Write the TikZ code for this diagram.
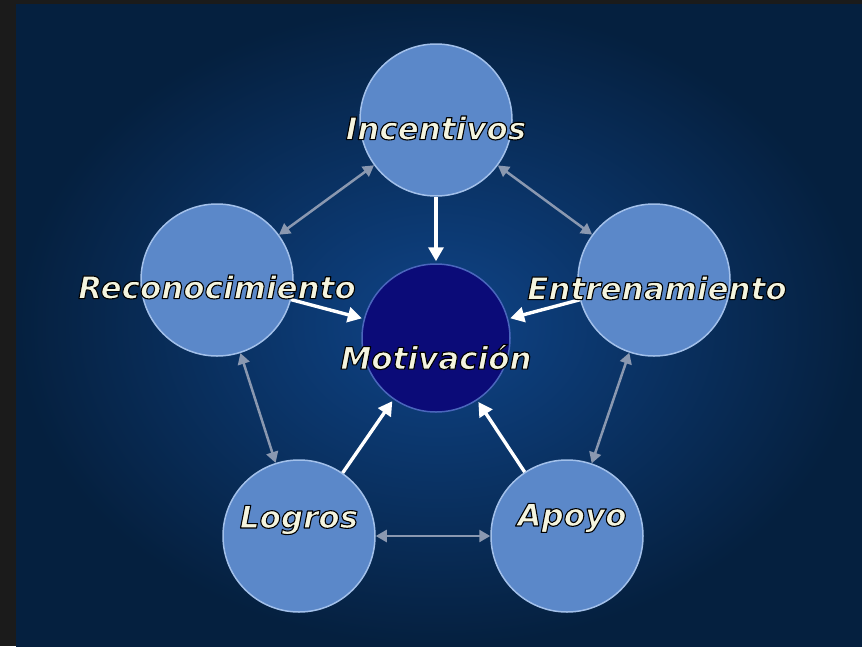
\documentclass[tikz,border=0pt]{standalone}
\usepackage{fontspec}
\setsansfont{DejaVu Sans}
\usetikzlibrary{positioning,arrows.meta}

\definecolor{frame}{HTML}{1B1B1B}
\definecolor{bgin}{HTML}{0F4488}
\definecolor{bgout}{HTML}{05203F}
\definecolor{petal}{HTML}{5B88C9}
\definecolor{petalrim}{HTML}{A2C0EA}
\definecolor{corefill}{HTML}{0B0B78}
\definecolor{corerim}{HTML}{4A66BC}
\definecolor{linkgray}{HTML}{8A98B0}
\definecolor{ink}{HTML}{F4F4DE}

% outlined text: fill + black stroke
\newcommand{\glow}[1]{\special{pdf:literal 2 Tr 1.1 w 1 j 0 0 0 RG}#1\special{pdf:literal 0 Tr}}

\tikzset{
  petalnode/.style={circle,minimum size=152pt,fill=petal,draw=petalrim,line width=1.5pt},
  corenode/.style={circle,minimum size=148pt,fill=corefill,draw=corerim,line width=1.5pt},
  lbl/.style={font=\sffamily\bfseries\itshape\fontsize{31}{31}\selectfont,text=ink,inner sep=0pt},
  push/.style={draw=white,line width=3.4pt,shorten >=2pt,-{Triangle[length=14pt,width=15pt]}},
  link/.style={draw=linkgray,line width=2.5pt,{Triangle[length=11pt,width=12pt]}-{Triangle[length=11pt,width=12pt]}},
}

\begin{document}
\begin{tikzpicture}[x=1pt,y=-1pt]
    % background
    \useasboundingbox (0,0) rectangle (862,646);
    \fill[frame] (0,0) rectangle (862,646);
    \shade[inner color=bgin,outer color=bgout] (16,4) rectangle (862,646);

    % circles
    \node[corenode] (mot) at (436,338) {};
    \node[petalnode] (inc) at (436,120) {};
    \node[petalnode] (rec) at (217,280) {};
    \node[petalnode] (ent) at (654,280) {};
    \node[petalnode] (log) at (299,536) {};
    \node[petalnode] (apo) at (567,536) {};

    % links between outer circles
    \draw[link] (inc) -- (rec);
    \draw[link] (inc) -- (ent);
    \draw[link] (rec) -- (log);
    \draw[link] (ent) -- (apo);
    \draw[link] (log) -- (apo);

    % arrows into the centre
    \foreach \n in {inc,rec,ent,log,apo}
        \draw[push] (\n) -- (mot);

    % labels
    \node[lbl] (t-inc) at ([yshift=-8pt]inc.center) {\glow{Incentivos}};
    \node[lbl] (t-rec) at ([yshift=-7pt]rec.center) {\glow{Reconocimiento}};
    \node[lbl] (t-ent) at ([xshift=3pt,yshift=-8pt]ent.center) {\glow{Entrenamiento}};
    \node[lbl] (t-mot) at ([yshift=-19pt]mot.center) {\glow{Motivación}};
    \node[lbl] (t-log) at ([yshift=16pt]log.center) {\glow{Logros}};
    \node[lbl] (t-apo) at ([xshift=5pt,yshift=18pt]apo.center) {\glow{Apoyo}};
\end{tikzpicture}
\end{document}
